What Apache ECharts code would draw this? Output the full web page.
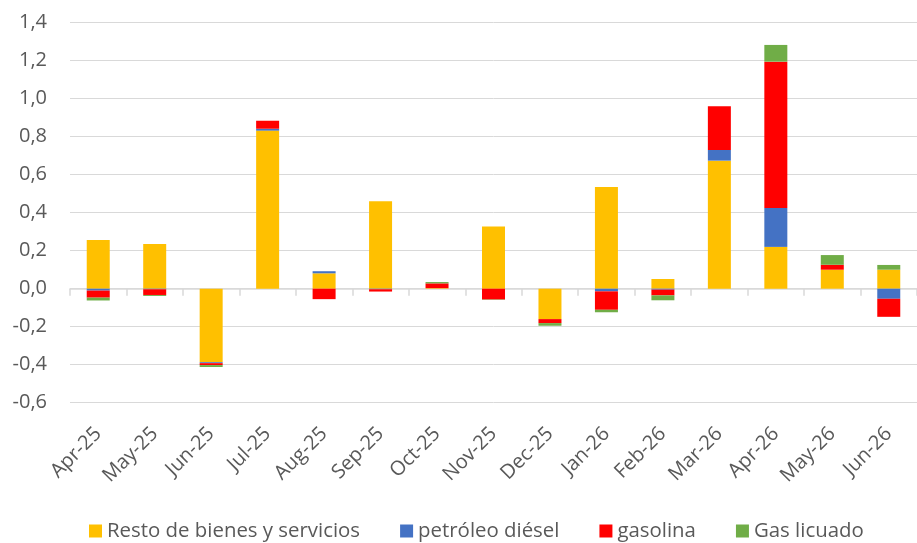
<!DOCTYPE html>
<html>
<head>
<meta charset="utf-8">
<script src="https://cdn.jsdelivr.net/npm/echarts@6/dist/echarts.min.js"></script>
<style>
html,body{margin:0;padding:0;background:#fff;}
#chart{width:917px;height:543px;}
</style>
</head>
<body>
<div id="chart"></div>
<script>
const categories = ["Apr-25","May-25","Jun-25","Jul-25","Aug-25","Sep-25","Oct-25","Nov-25","Dec-25","Jan-26","Feb-26","Mar-26","Apr-26","May-26","Jun-26"];
const restoBienes = [0.256, 0.235, -0.387, 0.832, 0.081, 0.460, 0.003, 0.328, -0.160, 0.535, 0.051, 0.674, 0.220, 0.100, 0.100];
const petroleoDiesel = [-0.010, -0.003, -0.005, 0.010, 0.011, -0.003, 0, 0, 0, -0.014, -0.005, 0.056, 0.205, 0, -0.053];
const gasolina = [-0.037, -0.030, -0.010, 0.042, -0.055, -0.012, 0.025, -0.057, -0.021, -0.097, -0.030, 0.230, 0.770, 0.026, -0.095];
const gasLicuado = [-0.015, -0.005, -0.010, 0, 0, 0, 0.007, -0.002, -0.014, -0.013, -0.026, 0, 0.088, 0.051, 0.025];
const seriesNames = ["Resto de bienes y servicios", "petróleo diésel", "gasolina", "Gas licuado"];
const yTicks = {min: -0.6, max: 1.4, interval: 0.2};

const FONT = "'Open Sans', 'Noto Sans', sans-serif";
const TXT = '#595959';
const colors = ['#FFC000', '#4472C4', '#FF0000', '#70AD47'];
const values = [restoBienes, petroleoDiesel, gasolina, gasLicuado];

const chart = echarts.init(document.getElementById('chart'), null, {renderer: 'canvas'});
chart.setOption({
  animation: false,
  color: colors,
  textStyle: {fontFamily: FONT},
  grid: {left: 70, right: -6.5, top: 22.7, bottom: 140.3, containLabel: false},
  legend: {
    data: seriesNames,
    left: 89, top: 521, padding: 0,
    icon: 'rect', itemWidth: 13, itemHeight: 13, itemGap: 40,
    textStyle: {fontSize: 20.4, color: TXT, fontFamily: FONT}
  },
  xAxis: [
    {
      type: 'category', data: categories, position: 'bottom',
      axisLine: {show: true, onZero: true, lineStyle: {color: '#d9d9d9', width: 1.5}},
      axisTick: {show: true, length: 7, lineStyle: {color: '#d9d9d9', width: 1.5}},
      axisLabel: {show: false}
    },
    {
      type: 'category', data: categories, position: 'bottom',
      axisLine: {show: false, onZero: false},
      axisTick: {show: false},
      axisLabel: {show: true, rotate: 45, margin: 28, fontSize: 20, color: TXT, fontFamily: FONT, interval: 0}
    }
  ],
  yAxis: {
    type: 'value', min: yTicks.min, max: yTicks.max, interval: yTicks.interval,
    axisLine: {show: false}, axisTick: {show: false},
    splitLine: {lineStyle: {color: '#d9d9d9', width: 1}},
    axisLabel: {
      fontSize: 20, color: TXT, fontFamily: FONT, margin: 23,
      formatter: v => (Math.round(v * 10) / 10).toFixed(1).replace('.', ',')
    }
  },
  series: values.map((arr, i) => ({
    name: seriesNames[i], type: 'bar', stack: 'total', xAxisIndex: 0,
    barWidth: 23, data: arr,
    itemStyle: {color: colors[i]}
  }))
});
</script>
</body>
</html>
